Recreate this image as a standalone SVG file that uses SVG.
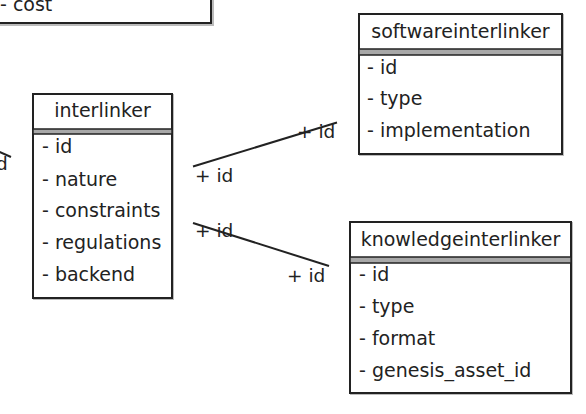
<svg xmlns="http://www.w3.org/2000/svg" width="586" height="414" viewBox="0 0 586 414">
<style>
.box{fill:#fff;stroke:#222;stroke-width:2}
.shadow{fill:none;stroke:#bbb;stroke-width:2}
.bar{fill:#a8a8a8;stroke:#222;stroke-width:1.5}
text{font-family:"DejaVu Sans",sans-serif;font-size:19px;fill:#222}
.t{text-anchor:middle}
.lbl{font-size:18.5px}
.edge{stroke:#222;stroke-width:2;fill:none}
</style>
<rect width="586" height="414" fill="#fff"/>
<g id="top-box">
<rect class="shadow" x="-10" y="-20" width="223" height="45"/>
<rect class="box" x="-10" y="-20" width="221" height="43"/>
<text x="0" y="11">- cost</text>
</g>
<g id="interlinker">
<rect class="shadow" x="34" y="95" width="139" height="204"/>
<rect class="box" x="33" y="94" width="139" height="204"/>
<rect class="bar" x="33" y="129" width="139" height="5"/>
<text class="t" x="102.5" y="117">interlinker</text>
<text x="42" y="153">- id</text>
<text x="42" y="186">- nature</text>
<text x="42" y="217">- constraints</text>
<text x="42" y="249">- regulations</text>
<text x="42" y="281">- backend</text>
</g>
<g id="softwareinterlinker">
<rect class="shadow" x="360" y="15" width="203" height="140"/>
<rect class="box" x="359" y="14" width="203" height="140"/>
<rect class="bar" x="359" y="49" width="203" height="6"/>
<text class="t" x="460.5" y="38">softwareinterlinker</text>
<text x="367" y="74">- id</text>
<text x="367" y="105">- type</text>
<text x="367" y="137">- implementation</text>
</g>
<g id="knowledgeinterlinker">
<rect class="shadow" x="351" y="223" width="221" height="171"/>
<rect class="box" x="350" y="222" width="221" height="171"/>
<rect class="bar" x="350" y="257" width="221" height="6"/>
<text class="t" x="460.5" y="246">knowledgeinterlinker</text>
<text x="359" y="281">- id</text>
<text x="359" y="313">- type</text>
<text x="359" y="345">- format</text>
<text x="359" y="377">- genesis_asset_id</text>
</g>
<g id="connectors">
<line class="edge" x1="193" y1="166.5" x2="337" y2="122.5"/>
<line class="edge" x1="193" y1="223" x2="329" y2="266"/>
<line class="edge" x1="-5" y1="150" x2="11" y2="157"/>
<text class="lbl" x="195" y="182">+ id</text>
<text class="lbl" x="297" y="138">+ id</text>
<text class="lbl" x="195" y="237">+ id</text>
<text class="lbl" x="287" y="282">+ id</text>
<text class="lbl" x="-4" y="170">d</text>
</g>
</svg>
